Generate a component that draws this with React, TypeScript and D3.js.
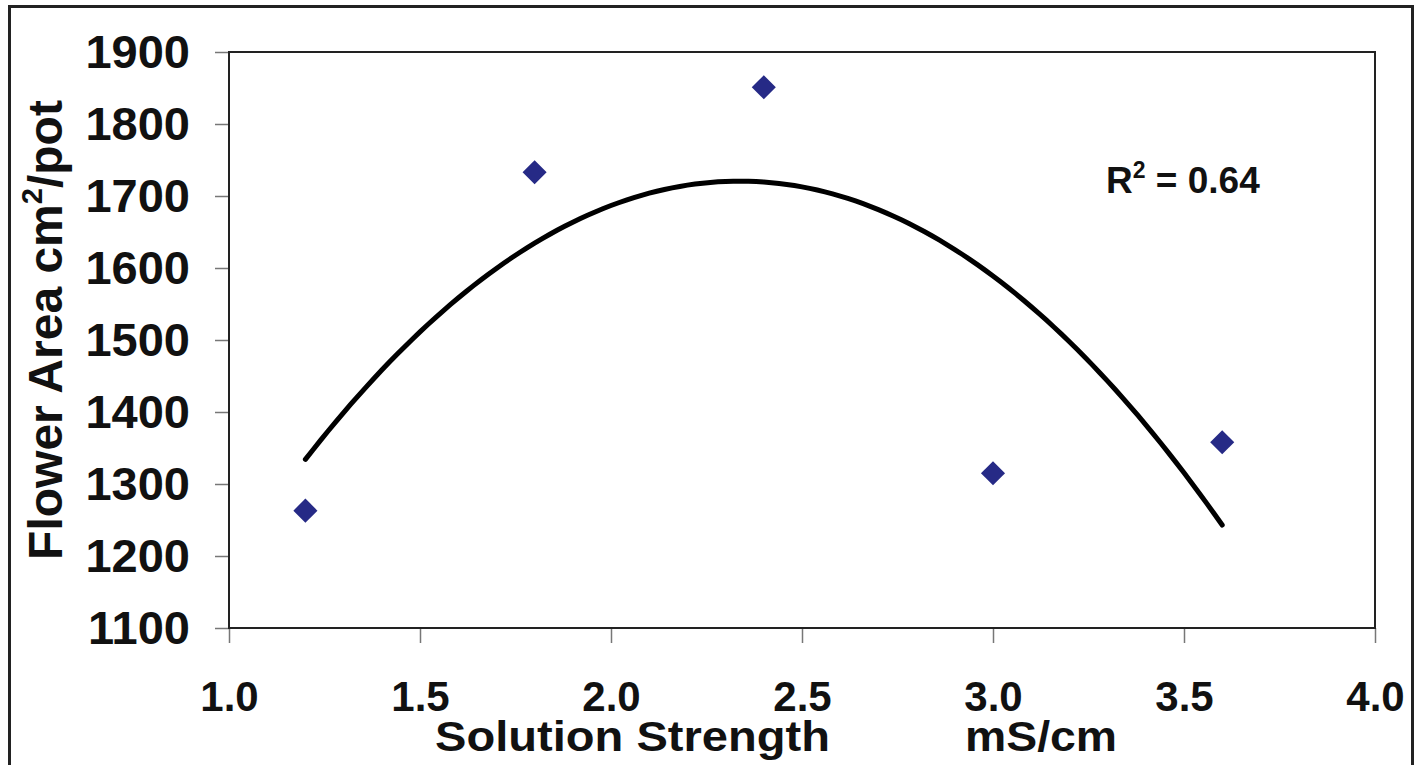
import React, { useRef, useEffect } from 'react';
import * as d3 from 'd3';

// solution strength (mS/cm) and flower area (cm2/pot)
const strength = [1.2, 1.8, 2.4, 3.0, 3.6];
const flowerArea = [1263, 1733, 1851, 1315, 1358];
const xTicks = [1.0, 1.5, 2.0, 2.5, 3.0, 3.5, 4.0];
const yTicks = [1100, 1200, 1300, 1400, 1500, 1600, 1700, 1800, 1900];
const r2Label = '0.64';

const W = 1421;
const H = 765;
const FONT = '"Liberation Sans", Arial, Helvetica, sans-serif';

// least squares quadratic y = a + b x + c x^2
function quadFit(xs: number[], ys: number[]) {
    let s = [0, 0, 0, 0, 0];
    let t = [0, 0, 0];
    xs.forEach((x, i) => {
        for (let k = 0; k < 5; k++) s[k] += Math.pow(x, k);
        for (let k = 0; k < 3; k++) t[k] += ys[i] * Math.pow(x, k);
    });
    const m = [
        [s[0], s[1], s[2], t[0]],
        [s[1], s[2], s[3], t[1]],
        [s[2], s[3], s[4], t[2]],
    ];
    for (let i = 0; i < 3; i++) {
        for (let j = i + 1; j < 3; j++) {
            const f = m[j][i] / m[i][i];
            for (let k = i; k < 4; k++) m[j][k] -= f * m[i][k];
        }
    }
    const c = [0, 0, 0];
    for (let i = 2; i >= 0; i--) {
        let v = m[i][3];
        for (let k = i + 1; k < 3; k++) v -= m[i][k] * c[k];
        c[i] = v / m[i][i];
    }
    return (x: number) => c[0] + c[1] * x + c[2] * x * x;
}

const App = () => {
    const svgRef = useRef<SVGSVGElement>(null);

    useEffect(() => {
        const svg = d3.select(svgRef.current);
        svg.selectAll('*').remove();

        const left = 229, right = 1375, top = 52, bottom = 628;

        const xScale = d3.scaleLinear().domain([1.0, 4.0]).range([left, right]);
        const yScale = d3.scaleLinear().domain([1100, 1900]).range([bottom, top]);

        // outer frame
        svg.append('rect')
            .attr('x', 9.5).attr('y', 6.5)
            .attr('width', 1403).attr('height', 780)
            .attr('fill', 'none')
            .attr('stroke', '#222')
            .attr('stroke-width', 3);

        // y axis
        const yAxis = svg.append('g')
            .attr('transform', `translate(${left},0)`)
            .call(d3.axisLeft(yScale).tickValues(yTicks).tickSize(14).tickPadding(25).tickFormat(d3.format('d')));
        yAxis.select('.domain').remove();
        yAxis.selectAll('line').attr('stroke', '#777').attr('stroke-width', 1.5);
        yAxis.selectAll('text')
            .attr('font-family', FONT)
            .attr('font-weight', 700)
            .style('font-size', '47px')
            .attr('fill', '#111');

        // x axis
        const xAxis = svg.append('g')
            .attr('transform', `translate(0,${bottom})`)
            .call(d3.axisBottom(xScale).tickValues(xTicks).tickSize(15).tickFormat(d3.format('.1f')));
        xAxis.select('.domain').remove();
        xAxis.selectAll('line').attr('stroke', '#777').attr('stroke-width', 1.5);
        xAxis.selectAll('text')
            .attr('y', 83)
            .attr('dy', 0)
            .attr('font-family', FONT)
            .attr('font-weight', 700)
            .style('font-size', '42px')
            .attr('fill', '#111');

        // plot frame
        svg.append('rect')
            .attr('x', left).attr('y', top)
            .attr('width', right - left).attr('height', bottom - top)
            .attr('fill', 'none')
            .attr('stroke', '#222')
            .attr('stroke-width', 2);

        // trend line
        const fit = quadFit(strength, flowerArea);
        const xs = d3.range(strength[0], strength[strength.length - 1] + 0.001, 0.02);
        const lineGenerator = d3.line<number>()
            .x(d => xScale(d))
            .y(d => yScale(fit(d)));
        svg.append('path')
            .attr('d', lineGenerator(xs))
            .attr('fill', 'none')
            .attr('stroke', '#000')
            .attr('stroke-width', 5)
            .attr('stroke-linecap', 'round');

        // points
        const diamond = d3.symbol().type(d3.symbolSquare).size(290);
        svg.selectAll('.dot')
            .data(strength)
            .join('path')
            .attr('class', 'dot')
            .attr('d', diamond)
            .attr('transform', (d, i) => `translate(${xScale(d)},${yScale(flowerArea[i])}) rotate(45)`)
            .attr('fill', '#262a86');

        // R2 label
        const r2 = svg.append('text')
            .attr('x', 1106).attr('y', 193)
            .attr('font-family', FONT)
            .attr('font-weight', 700)
            .style('font-size', '37px')
            .attr('fill', '#111');
        r2.append('tspan').text('R');
        r2.append('tspan').attr('dy', -15).style('font-size', '23px').text('2');
        r2.append('tspan').attr('dy', 15).text(` = ${r2Label}`);

        // x title
        svg.append('text')
            .attr('x', 435).attr('y', 751)
            .attr('font-family', FONT).attr('font-weight', 700)
            .style('font-size', '43px')
            .attr('textLength', 395).attr('lengthAdjust', 'spacingAndGlyphs')
            .attr('fill', '#111')
            .text('Solution Strength');
        svg.append('text')
            .attr('x', 965).attr('y', 751)
            .attr('font-family', FONT).attr('font-weight', 700)
            .style('font-size', '43px')
            .attr('textLength', 152).attr('lengthAdjust', 'spacingAndGlyphs')
            .attr('fill', '#111')
            .text('mS/cm');

        // y title
        const yt = svg.append('text')
            .attr('transform', 'translate(62,330) rotate(-90)')
            .attr('text-anchor', 'middle')
            .attr('font-family', FONT).attr('font-weight', 700)
            .style('font-size', '48px')
            .attr('fill', '#111');
        yt.append('tspan').text('Flower Area cm');
        yt.append('tspan').attr('dy', -20).style('font-size', '29px').text('2');
        yt.append('tspan').attr('dy', 20).text('/pot');
    }, []);

    return (
        <svg ref={svgRef} width={W} height={H}
            style={{ position: 'absolute', left: 0, top: 0, background: '#fff' }} />
    );
};

export default App;
